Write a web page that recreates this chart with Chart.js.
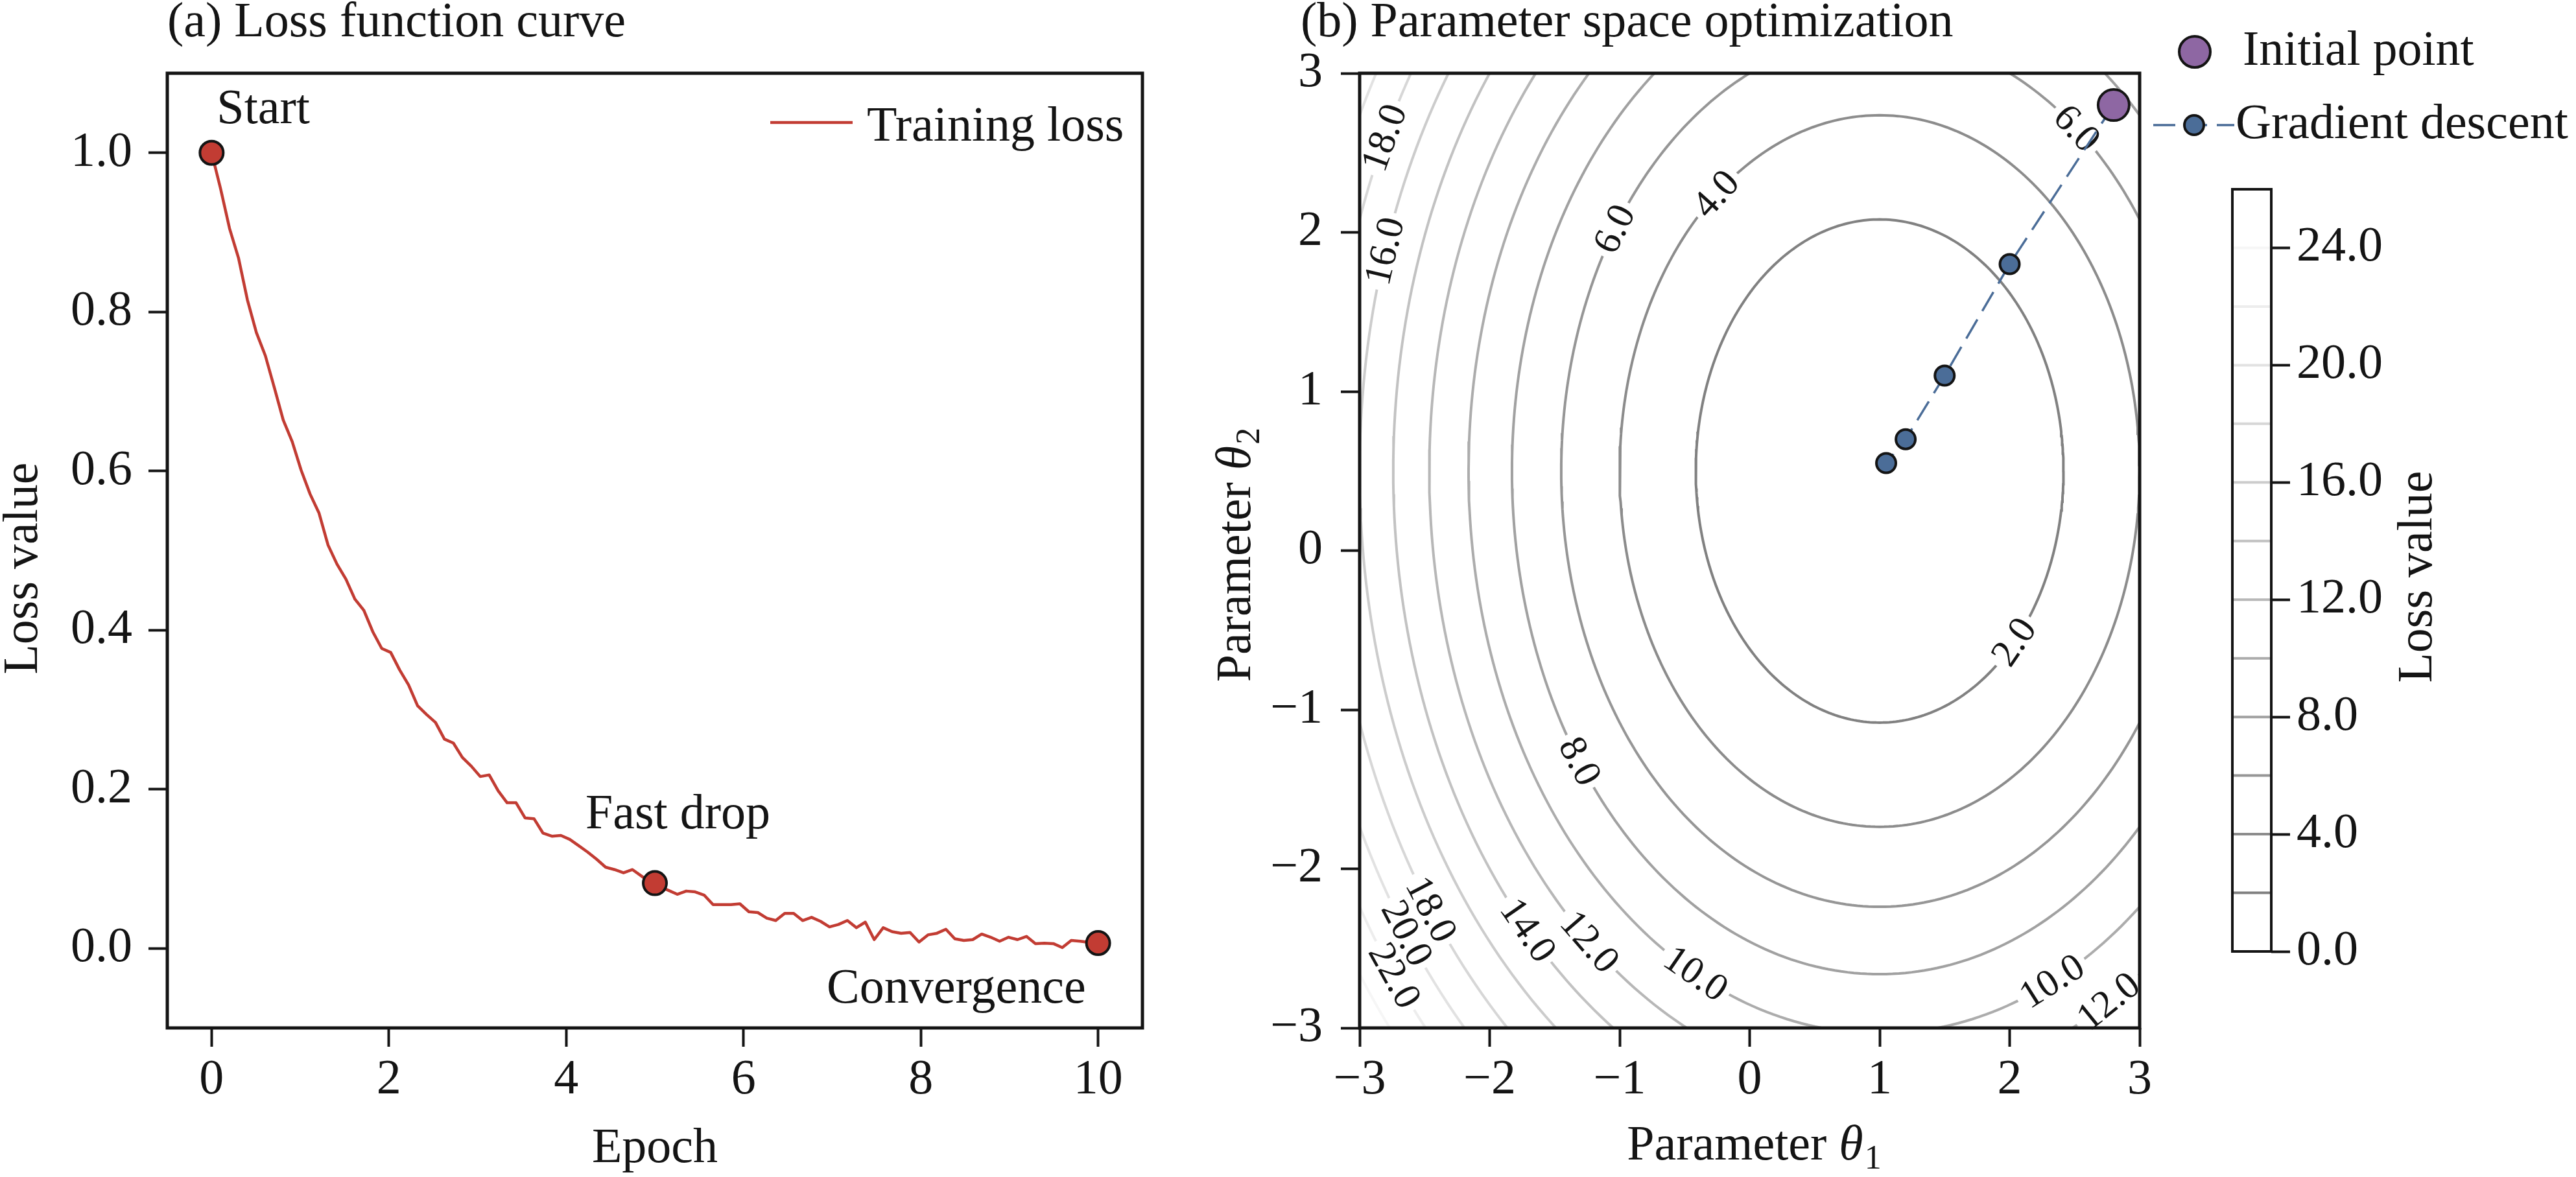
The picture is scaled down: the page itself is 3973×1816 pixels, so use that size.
<!DOCTYPE html>
<html>
<head>
<meta charset="utf-8">
<script src="https://cdn.jsdelivr.net/npm/chart.js@4.4.1/dist/chart.umd.min.js"></script>
<style>
  html, body { margin: 0; padding: 0; background: #fff; }
  body { width: 3973px; height: 1816px; position: relative; overflow: hidden; }
  canvas { position: absolute; top: 0; }
</style>
</head>
<body>
<canvas id="lossChart" width="1900" height="1816" style="left:0px"></canvas>
<canvas id="paramChart" width="2123" height="1816" style="left:1850px"></canvas>
<canvas id="cbarChart" width="573" height="1816" style="left:3400px"></canvas>
<script>
//! data ------------------------------------------------------------
// (a) training loss, 100 samples spread evenly over epochs 0..10
let lossValues = [
  1.000, 0.955, 0.905, 0.868, 0.815, 0.774, 0.745, 0.705, 0.664, 0.637,
  0.601, 0.571, 0.547, 0.507, 0.483, 0.464, 0.439, 0.425, 0.398, 0.377,
  0.372, 0.350, 0.331, 0.305, 0.294, 0.284, 0.263, 0.258, 0.240, 0.229,
  0.216, 0.218, 0.198, 0.183, 0.183, 0.164, 0.163, 0.145, 0.141, 0.142,
  0.137, 0.129, 0.121, 0.112, 0.102, 0.099, 0.095, 0.099, 0.091, 0.083,
  0.078, 0.073, 0.068, 0.072, 0.071, 0.067, 0.055, 0.055, 0.055, 0.056,
  0.046, 0.045, 0.038, 0.035, 0.044, 0.044, 0.035, 0.039, 0.034, 0.027,
  0.030, 0.035, 0.026, 0.033, 0.011, 0.026, 0.021, 0.019, 0.020, 0.008,
  0.017, 0.019, 0.024, 0.012, 0.010, 0.011, 0.018, 0.014, 0.009, 0.014,
  0.011, 0.015, 0.006, 0.0065, 0.006, 0.001, 0.010, 0.009, 0.0075, 0.006
];
let lastEpoch = 10;
let keyEpochs = [0, 5, 10];
let keyLoss = [1.0, 0.082, 0.0067];
let keyLabels = ["Start", "Fast drop", "Convergence"];
let epochTicks = [0, 2, 4, 6, 8, 10];
let lossTicks = [0, 0.2, 0.4, 0.6, 0.8, 1.0];

// (b) parameter space
let thetaTicks = [-3, -2, -1, 0, 1, 2, 3];
let lossCenter = [1, 0.5];     // minimum of the bowl (theta1, theta2)
let lossWeights = [1, 0.8];    // loss = w1*(t1-c1)^2 + w2*(t2-c2)^2
let contourLevels = [2, 4, 6, 8, 10, 12, 14, 16, 18, 20, 22, 24];
// [level, theta1, theta2] where each inline label sits
let contourLabels = [
  [2, 2.06, -0.60], [4, -0.25, 2.23], [6, -1.01, 2.0], [6, 2.52, 2.66],
  [8, -1.34, -1.35], [10, -0.42, -2.67], [10, 2.32, -2.69], [12, -1.21, -2.43],
  [12, 2.75, -2.81], [14, -1.71, -2.39], [16, -2.80, 1.88], [18, -2.80, 2.59],
  [18, -2.47, -2.27], [20, -2.67, -2.43], [22, -2.73, -2.67]
];
let initTheta1 = [2.8];
let initTheta2 = [2.8];
let gdTheta1 = [2.8, 2.0, 1.5, 1.2, 1.05];
let gdTheta2 = [2.8, 1.8, 1.1, 0.7, 0.55];
let cbarMax = 26;
let cbarTicks = [0, 4, 8, 12, 16, 20, 24];

//! styles -----------------------------------------------------------
const serif = "'Liberation Serif', 'Times New Roman', serif";
const ink = "#141414";
const red = "#c23c33";
const purple = "#8e67a3";
const blue = "#4b6d98";
const FS = 76;
const CLABEL = 60;

Chart.defaults.font.family = serif;
Chart.defaults.color = ink;

function levelColor(lv) {
  let g = Math.min(246, Math.round(118 + 5.4 * lv));
  return `rgb(${g},${g},${g})`;
}
function tickOpts(pad) {
  return { font: { size: FS }, padding: pad, autoSkip: false, maxRotation: 0, color: ink };
}
let gridOpts = { drawOnChartArea: false, drawTicks: true, tickLength: 29, tickWidth: 4, tickColor: ink };
let minus = (v) => (v < 0 ? "\u2212" + Math.abs(v) : String(v));

function thetaLabel(ctx, cx, base, sub) {
  ctx.font = `${FS}px ${serif}`;
  let w1 = ctx.measureText("Parameter ").width;
  ctx.font = `italic ${FS}px ${serif}`;
  let w2 = ctx.measureText("\u03b8").width;
  ctx.font = `52px ${serif}`;
  let w3 = ctx.measureText(sub).width;
  let x0 = cx - (w1 + w2 + w3) / 2;
  ctx.textAlign = "left";
  ctx.font = `${FS}px ${serif}`;
  ctx.fillText("Parameter ", x0, base);
  ctx.font = `italic ${FS}px ${serif}`;
  ctx.fillText("\u03b8", x0 + w1, base);
  ctx.font = `52px ${serif}`;
  ctx.fillText(sub, x0 + w1 + w2 + 2, base + 14);
}

//! (a) loss curve ------------------------------------------------------
let lossEpochs = lossValues.map((_, i) => (i * lastEpoch) / (lossValues.length - 1));
let labelOffsets = [[8, -46, "left"], [-107, -85, "left"], [-19, 92, "right"]];

let lossDecor = {
  id: "lossDecor",
  afterDraw(chart) {
    let { ctx, chartArea: a, scales: { x, y } } = chart;
    ctx.save();
    ctx.strokeStyle = ink;
    ctx.lineWidth = 5;
    ctx.strokeRect(a.left, a.top, a.right - a.left, a.bottom - a.top);

    ctx.fillStyle = ink;
    ctx.font = `${FS}px ${serif}`;
    ctx.textBaseline = "alphabetic";
    ctx.textAlign = "left";
    ctx.fillText("(a) Loss function curve", 258, 56);
    ctx.textAlign = "center";
    ctx.fillText("Epoch", (a.left + a.right) / 2, 1793);
    ctx.save();
    ctx.translate(57, 877);
    ctx.rotate(-Math.PI / 2);
    ctx.fillText("Loss value", 0, 0);
    ctx.restore();

    // legend
    ctx.strokeStyle = red;
    ctx.lineWidth = 4.5;
    ctx.beginPath();
    ctx.moveTo(1188, 189);
    ctx.lineTo(1315, 189);
    ctx.stroke();
    ctx.textAlign = "left";
    ctx.fillText("Training loss", 1337, 217);

    // annotations next to the key points
    keyLabels.forEach((t, i) => {
      let px = x.getPixelForValue(keyEpochs[i]);
      let py = y.getPixelForValue(keyLoss[i]);
      let [dx, dy, al] = labelOffsets[i];
      ctx.textAlign = al;
      ctx.fillText(t, px + dx, py + dy);
    });
    ctx.restore();
  }
};

new Chart(document.getElementById("lossChart"), {
  type: "line",
  data: {
    datasets: [
      {
        label: "Key points",
        data: keyEpochs.map((e, i) => ({ x: e, y: keyLoss[i] })),
        showLine: false,
        pointRadius: 18,
        pointBackgroundColor: red,
        pointBorderColor: ink,
        pointBorderWidth: 4
      },
      {
        label: "Training loss",
        data: lossEpochs.map((e, i) => ({ x: e, y: lossValues[i] })),
        borderColor: red,
        borderWidth: 4.5,
        borderJoinStyle: "round",
        pointRadius: 0,
        tension: 0
      }
    ]
  },
  options: {
    responsive: false,
    animation: false,
    devicePixelRatio: 1,
    layout: { padding: { left: 58, top: 113, right: 138, bottom: 100 } },
    plugins: { legend: { display: false }, tooltip: { enabled: false } },
    scales: {
      x: {
        type: "linear", min: -0.5, max: 10.5,
        afterBuildTicks: (s) => { s.ticks = epochTicks.map((v) => ({ value: v })); },
        afterFit: (s) => { s.height = 130; },
        grid: gridOpts,
        border: { display: false },
        ticks: Object.assign(tickOpts(6), { callback: (v) => String(v) })
      },
      y: {
        type: "linear", min: -0.1, max: 1.1,
        afterBuildTicks: (s) => { s.ticks = lossTicks.map((v) => ({ value: v })); },
        afterFit: (s) => { s.width = 200; },
        grid: gridOpts,
        border: { display: false },
        ticks: Object.assign(tickOpts(25), { callback: (v) => v.toFixed(1) })
      }
    }
  },
  plugins: [lossDecor]
});

//! (b) parameter space ------------------------------------------------
function ellipseAxes(lv) {
  return [Math.sqrt(lv / lossWeights[0]), Math.sqrt(lv / lossWeights[1])];
}
let contourSets = contourLevels.map((lv) => {
  let [ea, eb] = ellipseAxes(lv);
  let pts = [];
  for (let k = 0; k <= 360; k++) {
    let t = (k * Math.PI) / 180;
    pts.push({ x: lossCenter[0] + ea * Math.cos(t), y: lossCenter[1] + eb * Math.sin(t) });
  }
  return {
    label: "L=" + lv,
    level: lv,
    data: pts,
    borderColor: levelColor(lv),
    borderWidth: 4,
    pointRadius: 0,
    tension: 0,
    fill: false
  };
});

// where each contour label goes on screen, and how it is turned
function labelPlaces(chart) {
  let { ctx, scales: { x, y } } = chart;
  ctx.save();
  ctx.font = `${CLABEL}px ${serif}`;
  let out = contourLabels.map(([lv, t1, t2]) => {
    let [ea, eb] = ellipseAxes(lv);
    let t = Math.atan2((t2 - lossCenter[1]) / eb, (t1 - lossCenter[0]) / ea);
    let px = x.getPixelForValue(lossCenter[0] + ea * Math.cos(t));
    let py = y.getPixelForValue(lossCenter[1] + eb * Math.sin(t));
    let dx = x.getPixelForValue(lossCenter[0] - ea * Math.sin(t)) - x.getPixelForValue(lossCenter[0]);
    let dy = y.getPixelForValue(lossCenter[1] + eb * Math.cos(t)) - y.getPixelForValue(lossCenter[1]);
    let ang = Math.atan2(dy, dx);
    if (ang > Math.PI / 2) ang -= Math.PI;
    if (ang < -Math.PI / 2) ang += Math.PI;
    let text = lv.toFixed(1);
    return { lv, px, py, ang, text, w: ctx.measureText(text).width };
  });
  ctx.restore();
  return out;
}

let paramDecor = {
  id: "paramDecor",
  beforeDatasetDraw(chart, args) {
    let ctx = chart.ctx;
    let ds = chart.data.datasets[args.index];
    if (ds.level !== undefined) {
      // cut the gap for this level's own labels only
      let places = labelPlaces(chart).filter((p) => p.lv === ds.level);
      ctx.save();
      if (!places.length) return;
      ctx.beginPath();
      ctx.rect(0, 0, chart.width, chart.height);
      places.forEach((p) => {
        let hw = p.w / 2 + 8, hh = 22;
        let c = Math.cos(p.ang), s = Math.sin(p.ang);
        let corners = [[-hw, -hh], [-hw, hh], [hw, hh], [hw, -hh]];
        corners.forEach(([u, v], k) => {
          let qx = p.px + u * c - v * s, qy = p.py + u * s + v * c;
          if (k === 0) ctx.moveTo(qx, qy); else ctx.lineTo(qx, qy);
        });
        ctx.closePath();
      });
      ctx.clip("evenodd");
      return;
    }
    if (args.index !== 1) return;
    // all contours are drawn now: write the level values
    ctx.save();
    ctx.font = `${CLABEL}px ${serif}`;
    ctx.textAlign = "center";
    ctx.textBaseline = "middle";
    ctx.fillStyle = ink;
    labelPlaces(chart).forEach((p) => {
      ctx.save();
      ctx.translate(p.px, p.py);
      ctx.rotate(p.ang);
      ctx.fillText(p.text, 0, 2);
      ctx.restore();
    });
    ctx.restore();
  },
  afterDatasetDraw(chart, args) {
    if (chart.data.datasets[args.index].level !== undefined) chart.ctx.restore();
  },
  afterDraw(chart) {
    let { ctx, chartArea: a } = chart;
    ctx.save();
    ctx.strokeStyle = ink;
    ctx.lineWidth = 5;
    ctx.strokeRect(a.left, a.top, a.right - a.left, a.bottom - a.top);

    ctx.fillStyle = ink;
    ctx.textBaseline = "alphabetic";
    ctx.font = `${FS}px ${serif}`;
    ctx.textAlign = "left";
    ctx.fillText("(b) Parameter space optimization", 156, 56);
    thetaLabel(ctx, (a.left + a.right) / 2 + 6, 1789, "1");
    ctx.save();
    ctx.translate(78, 857);
    ctx.rotate(-Math.PI / 2);
    thetaLabel(ctx, 0, 0, "2");
    ctx.restore();

    // legend
    ctx.font = `${FS}px ${serif}`;
    ctx.textAlign = "left";
    ctx.beginPath();
    ctx.arc(1535, 80, 24, 0, Math.PI * 2);
    ctx.fillStyle = purple;
    ctx.fill();
    ctx.lineWidth = 4;
    ctx.strokeStyle = ink;
    ctx.stroke();
    ctx.fillStyle = ink;
    ctx.fillText("Initial point", 1609, 100);

    ctx.save();
    ctx.strokeStyle = blue;
    ctx.lineWidth = 3.5;
    ctx.setLineDash([34, 15]);
    ctx.beginPath();
    ctx.moveTo(1471, 193);
    ctx.lineTo(1596, 193);
    ctx.stroke();
    ctx.restore();
    ctx.beginPath();
    ctx.arc(1534, 193, 15, 0, Math.PI * 2);
    ctx.fillStyle = blue;
    ctx.fill();
    ctx.lineWidth = 4;
    ctx.strokeStyle = ink;
    ctx.stroke();
    ctx.fillStyle = ink;
    ctx.fillText("Gradient descent", 1598, 213);
    ctx.restore();
  }
};

new Chart(document.getElementById("paramChart"), {
  type: "line",
  data: {
    datasets: [
      {
        label: "Initial point",
        data: initTheta1.map((v, i) => ({ x: v, y: initTheta2[i] })),
        showLine: false,
        pointRadius: 24,
        pointBackgroundColor: purple,
        pointBorderColor: ink,
        pointBorderWidth: 4
      },
      {
        label: "Gradient descent",
        data: gdTheta1.map((v, i) => ({ x: v, y: gdTheta2[i] })),
        borderColor: blue,
        borderWidth: 3.5,
        borderDash: [34, 15],
        tension: 0,
        pointRadius: 15,
        pointBackgroundColor: blue,
        pointBorderColor: ink,
        pointBorderWidth: 4
      }
    ].concat(contourSets)
  },
  options: {
    responsive: false,
    animation: false,
    devicePixelRatio: 1,
    layout: { padding: { left: 47, top: 113, right: 673, bottom: 100 } },
    plugins: { legend: { display: false }, tooltip: { enabled: false } },
    scales: {
      x: {
        type: "linear", min: -3, max: 3,
        afterBuildTicks: (s) => { s.ticks = thetaTicks.map((v) => ({ value: v })); },
        afterFit: (s) => { s.height = 130; },
        grid: gridOpts,
        border: { display: false },
        ticks: Object.assign(tickOpts(6), { callback: minus })
      },
      y: {
        type: "linear", min: -3, max: 3,
        afterBuildTicks: (s) => { s.ticks = thetaTicks.map((v) => ({ value: v })); },
        afterFit: (s) => { s.width = 200; },
        grid: gridOpts,
        border: { display: false },
        ticks: Object.assign(tickOpts(28), { callback: minus })
      }
    }
  },
  plugins: [paramDecor]
});

//! colour bar -----------------------------------------------------------
let cbarDecor = {
  id: "cbarDecor",
  afterDraw(chart) {
    let { ctx, chartArea: a } = chart;
    ctx.save();
    ctx.strokeStyle = ink;
    ctx.lineWidth = 4;
    ctx.strokeRect(a.left, a.top, a.right - a.left, a.bottom - a.top);
    ctx.fillStyle = ink;
    ctx.font = `${FS}px ${serif}`;
    ctx.textAlign = "center";
    ctx.translate(350, 890);
    ctx.rotate(-Math.PI / 2);
    ctx.fillText("Loss value", 0, 0);
    ctx.restore();
  }
};

new Chart(document.getElementById("cbarChart"), {
  type: "line",
  data: {
    datasets: contourLevels.map((lv) => ({
      label: "L=" + lv,
      data: [{ x: 0, y: lv }, { x: 1, y: lv }],
      borderColor: levelColor(lv),
      borderWidth: 4,
      pointRadius: 0
    }))
  },
  options: {
    responsive: false,
    animation: false,
    devicePixelRatio: 1,
    layout: { padding: { left: 43, top: 292, right: 270, bottom: 348 } },
    plugins: { legend: { display: false }, tooltip: { enabled: false } },
    scales: {
      x: { type: "linear", min: 0, max: 1, display: false },
      y: {
        type: "linear", position: "right", min: 0, max: cbarMax,
        afterBuildTicks: (s) => { s.ticks = cbarTicks.map((v) => ({ value: v })); },
        afterFit: (s) => { s.width = 200; },
        grid: gridOpts,
        border: { display: false },
        ticks: Object.assign(tickOpts(10), { callback: (v) => v.toFixed(1) })
      }
    }
  },
  plugins: [cbarDecor]
});
</script>
</body>
</html>
